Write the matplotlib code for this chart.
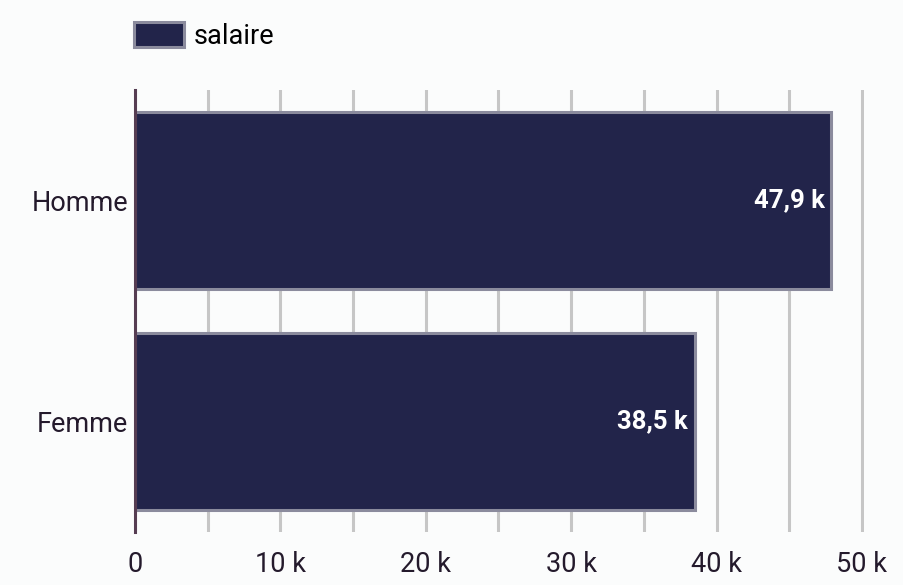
import matplotlib.pyplot as plt
from matplotlib.patches import Patch
from matplotlib.ticker import MultipleLocator, FuncFormatter

plt.rcParams['font.family'] = ['Roboto', 'DejaVu Sans']

# salaire moyen par sexe
categories = ['Homme', 'Femme']
salaire = [47900, 38500]
value_labels = ['47,9 k', '38,5 k']

bar_color = '#22244a'
edge_color = '#8b8b9d'
bg = '#fbfcfc'
fs = 19.5

fig = plt.figure(figsize=(9.04, 5.85), dpi=100, facecolor=bg)
# a little room past 50 k so the last grid line is not clipped
xmax = 50150
ax = fig.add_axes([135 / 904, 53 / 585, 727 * xmax / 50000 / 904, 442 / 585])
ax.set_facecolor(bg)

y = list(range(len(categories)))[::-1]
bars = ax.barh(y, salaire, height=0.8, color=bar_color, edgecolor=edge_color,
               linewidth=2.2, zorder=3)

for b, txt in zip(bars, value_labels):
    ax.text(b.get_width() - 450, b.get_y() + b.get_height() / 2, txt,
            ha='right', va='center', color='white', fontsize=fs - 1,
            fontweight='bold', zorder=4)

ax.set_xlim(0, xmax)
ax.set_ylim(-0.5, 1.5)
ax.set_yticks(y)
ax.set_yticklabels(categories, fontsize=fs, color='#241a2c')
ax.xaxis.set_major_locator(MultipleLocator(10000))
ax.xaxis.set_minor_locator(MultipleLocator(5000))
ax.xaxis.set_major_formatter(
    FuncFormatter(lambda v, p: '0' if v == 0 else '%d k' % (v / 1000)))
ax.tick_params(axis='x', which='both', length=0, pad=14, labelsize=fs,
               labelcolor='#241a2c')
ax.tick_params(axis='y', length=0, pad=5)
ax.grid(axis='x', which='both', color='#c6c6c6', linewidth=2.2, zorder=0)
ax.set_axisbelow(True)

for s in ['top', 'right', 'bottom']:
    ax.spines[s].set_visible(False)
ax.spines['left'].set_color('#563d52')
ax.spines['left'].set_linewidth(2.2)
ax.spines['left'].set_zorder(5)

leg = fig.legend(handles=[Patch(facecolor=bar_color, edgecolor=edge_color,
                                linewidth=2.2, label='salaire')],
                 loc='center left', bbox_to_anchor=(134 / 904, 1 - 36 / 585),
                 frameon=False, fontsize=fs, handlelength=1.85,
                 handleheight=1.0, handletextpad=0.35, borderpad=0,
                 borderaxespad=0)

fig.savefig('out.png', dpi=100, facecolor=bg)
